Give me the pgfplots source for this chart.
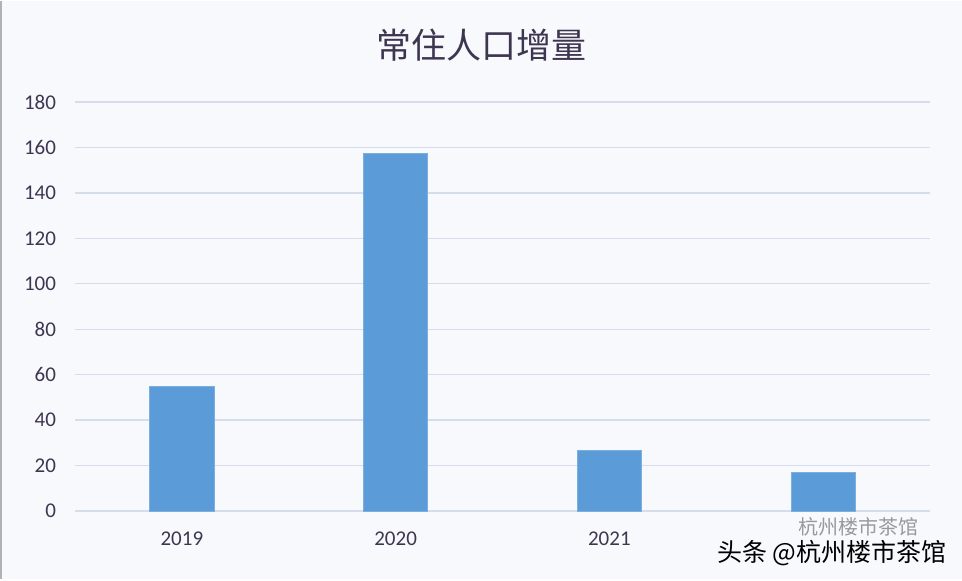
\documentclass[border=0pt]{standalone}
\usepackage{pgfplots}
\pgfplotsset{compat=1.18}
\usepackage{fontspec}
\setmainfont{Carlito}
\newfontfamily\cjk{Noto Sans CJK SC}
\definecolor{bg}{HTML}{F8F9FD}
\definecolor{barblue}{HTML}{5B9BD8}
\definecolor{gridc}{HTML}{D5DCEC}
\definecolor{txt}{HTML}{3E3650}
\begin{document}
\begin{tikzpicture}
\fill[bg] (0,0) rectangle (481pt,289pt);
\draw[gray!60, line width=1pt] (0.5pt,0) -- (0.5pt,289pt);
\begin{axis}[
  at={(37.5pt,34pt)}, anchor=south west,
  scale only axis, width=427.5pt, height=204.5pt,
  xmin=-0.5, xmax=3.5, ymin=0, ymax=180,
  ytick={0,20,...,180},
  xtick={0,1,2,3}, xticklabels={2019,2020,2021,{}},
  axis line style={draw=none},
  major tick length=0pt,
  ymajorgrids, grid style={gridc, line width=0.7pt},
  tick label style={font=\fontsize{10.5pt}{12pt}\selectfont, text=txt},
  yticklabel style={xshift=-6pt},
  xticklabel style={yshift=-7pt},
  /pgf/number format/assume math mode=true,
  ybar, bar width=0.30,
]
\addplot[fill=barblue, draw=barblue!80!white, line width=0.4pt] coordinates {(0,55) (1,157.5) (2,26.5) (3,16.8)};
\end{axis}
\node[text=txt, font=\cjk\fontsize{17.5pt}{20pt}\selectfont] at (240.5pt,267pt) {常住人口增量};
\node[text=black!40, font=\cjk\fontsize{10pt}{12pt}\selectfont] at (429pt,26pt) {杭州楼市茶馆};
\node[text=black, font=\cjk\fontsize{12.5pt}{15pt}\selectfont, inner sep=0pt] at (416pt,13pt) {头条 @杭州楼市茶馆};
\end{tikzpicture}
\end{document}
